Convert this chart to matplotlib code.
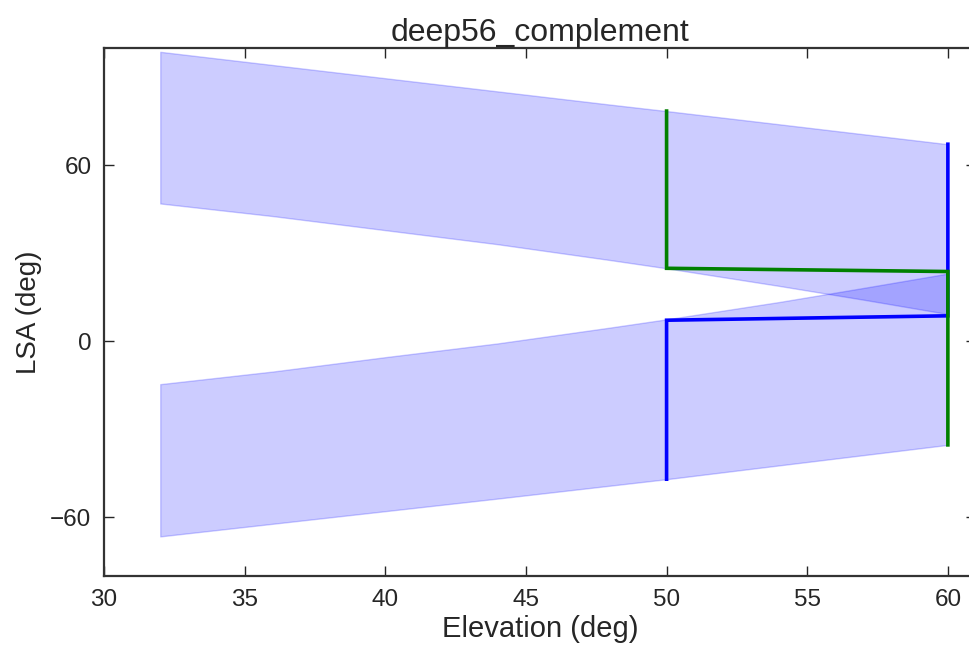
import matplotlib.pyplot as plt

plt.rcParams['font.family'] = ['Liberation Sans', 'DejaVu Sans']
TEXT = '#262626'

# elevation samples and LSA limits of the two allowed bands
elev = [32, 36, 40, 44, 48, 50, 54, 57, 60]
upper_top = [98.7, 94.2, 89.7, 85.2, 80.7, 78.5, 74.0, 70.6, 67.2]
upper_bot = [47.0, 42.7, 37.9, 33.1, 27.7, 24.9, 18.9, 14.2, 9.3]
lower_top = [-14.6, -10.3, -5.4, -0.7, 4.7, 7.5, 13.4, 18.2, 23.1]
lower_bot = [-66.5, -62.2, -57.9, -53.6, -49.2, -47.0, -42.3, -38.8, -35.3]

# boundary paths
green_x = [50, 50, 60, 60]
green_y = [78.5, 24.9, 23.8, -35.3]
blue_x = [60, 60, 50, 50]
blue_y = [67.2, 8.7, 7.2, -47.0]

xticks = [30, 35, 40, 45, 50, 55, 60]
yticks = [-60, 0, 60]

fig = plt.figure(figsize=(9.69, 6.5), dpi=100)
ax = fig.add_axes([104 / 969, 74 / 650, 872 / 969, 528 / 650])

ax.fill_between(elev, upper_bot, upper_top, color='b', alpha=0.2, lw=1)
ax.fill_between(elev, lower_bot, lower_top, color='b', alpha=0.2, lw=1)

ax.plot(blue_x, blue_y, color='b', lw=2.6, solid_joinstyle='miter')
ax.plot(green_x, green_y, color='g', lw=2.6, solid_joinstyle='miter')

ax.set_xlim(30, 61)
ax.set_ylim(-80, 100)
ax.set_xticks(xticks)
ax.set_yticks(yticks)
ax.set_yticklabels(['\u221260', '0', '60'])

ax.tick_params(direction='in', top=True, right=True, length=7, width=1,
               labelsize=17.5, pad=9, colors=TEXT)
for sp in ax.spines.values():
    sp.set_linewidth(1.6)
    sp.set_color('#333333')

ax.set_xlabel('Elevation (deg)', fontsize=21, labelpad=3, color=TEXT)
ax.set_ylabel('LSA (deg)', fontsize=20, labelpad=6, color=TEXT)
ax.set_title('deep56_complement', fontsize=23, pad=5, color=TEXT)

plt.savefig('out.png', dpi=100)
plt.close()
